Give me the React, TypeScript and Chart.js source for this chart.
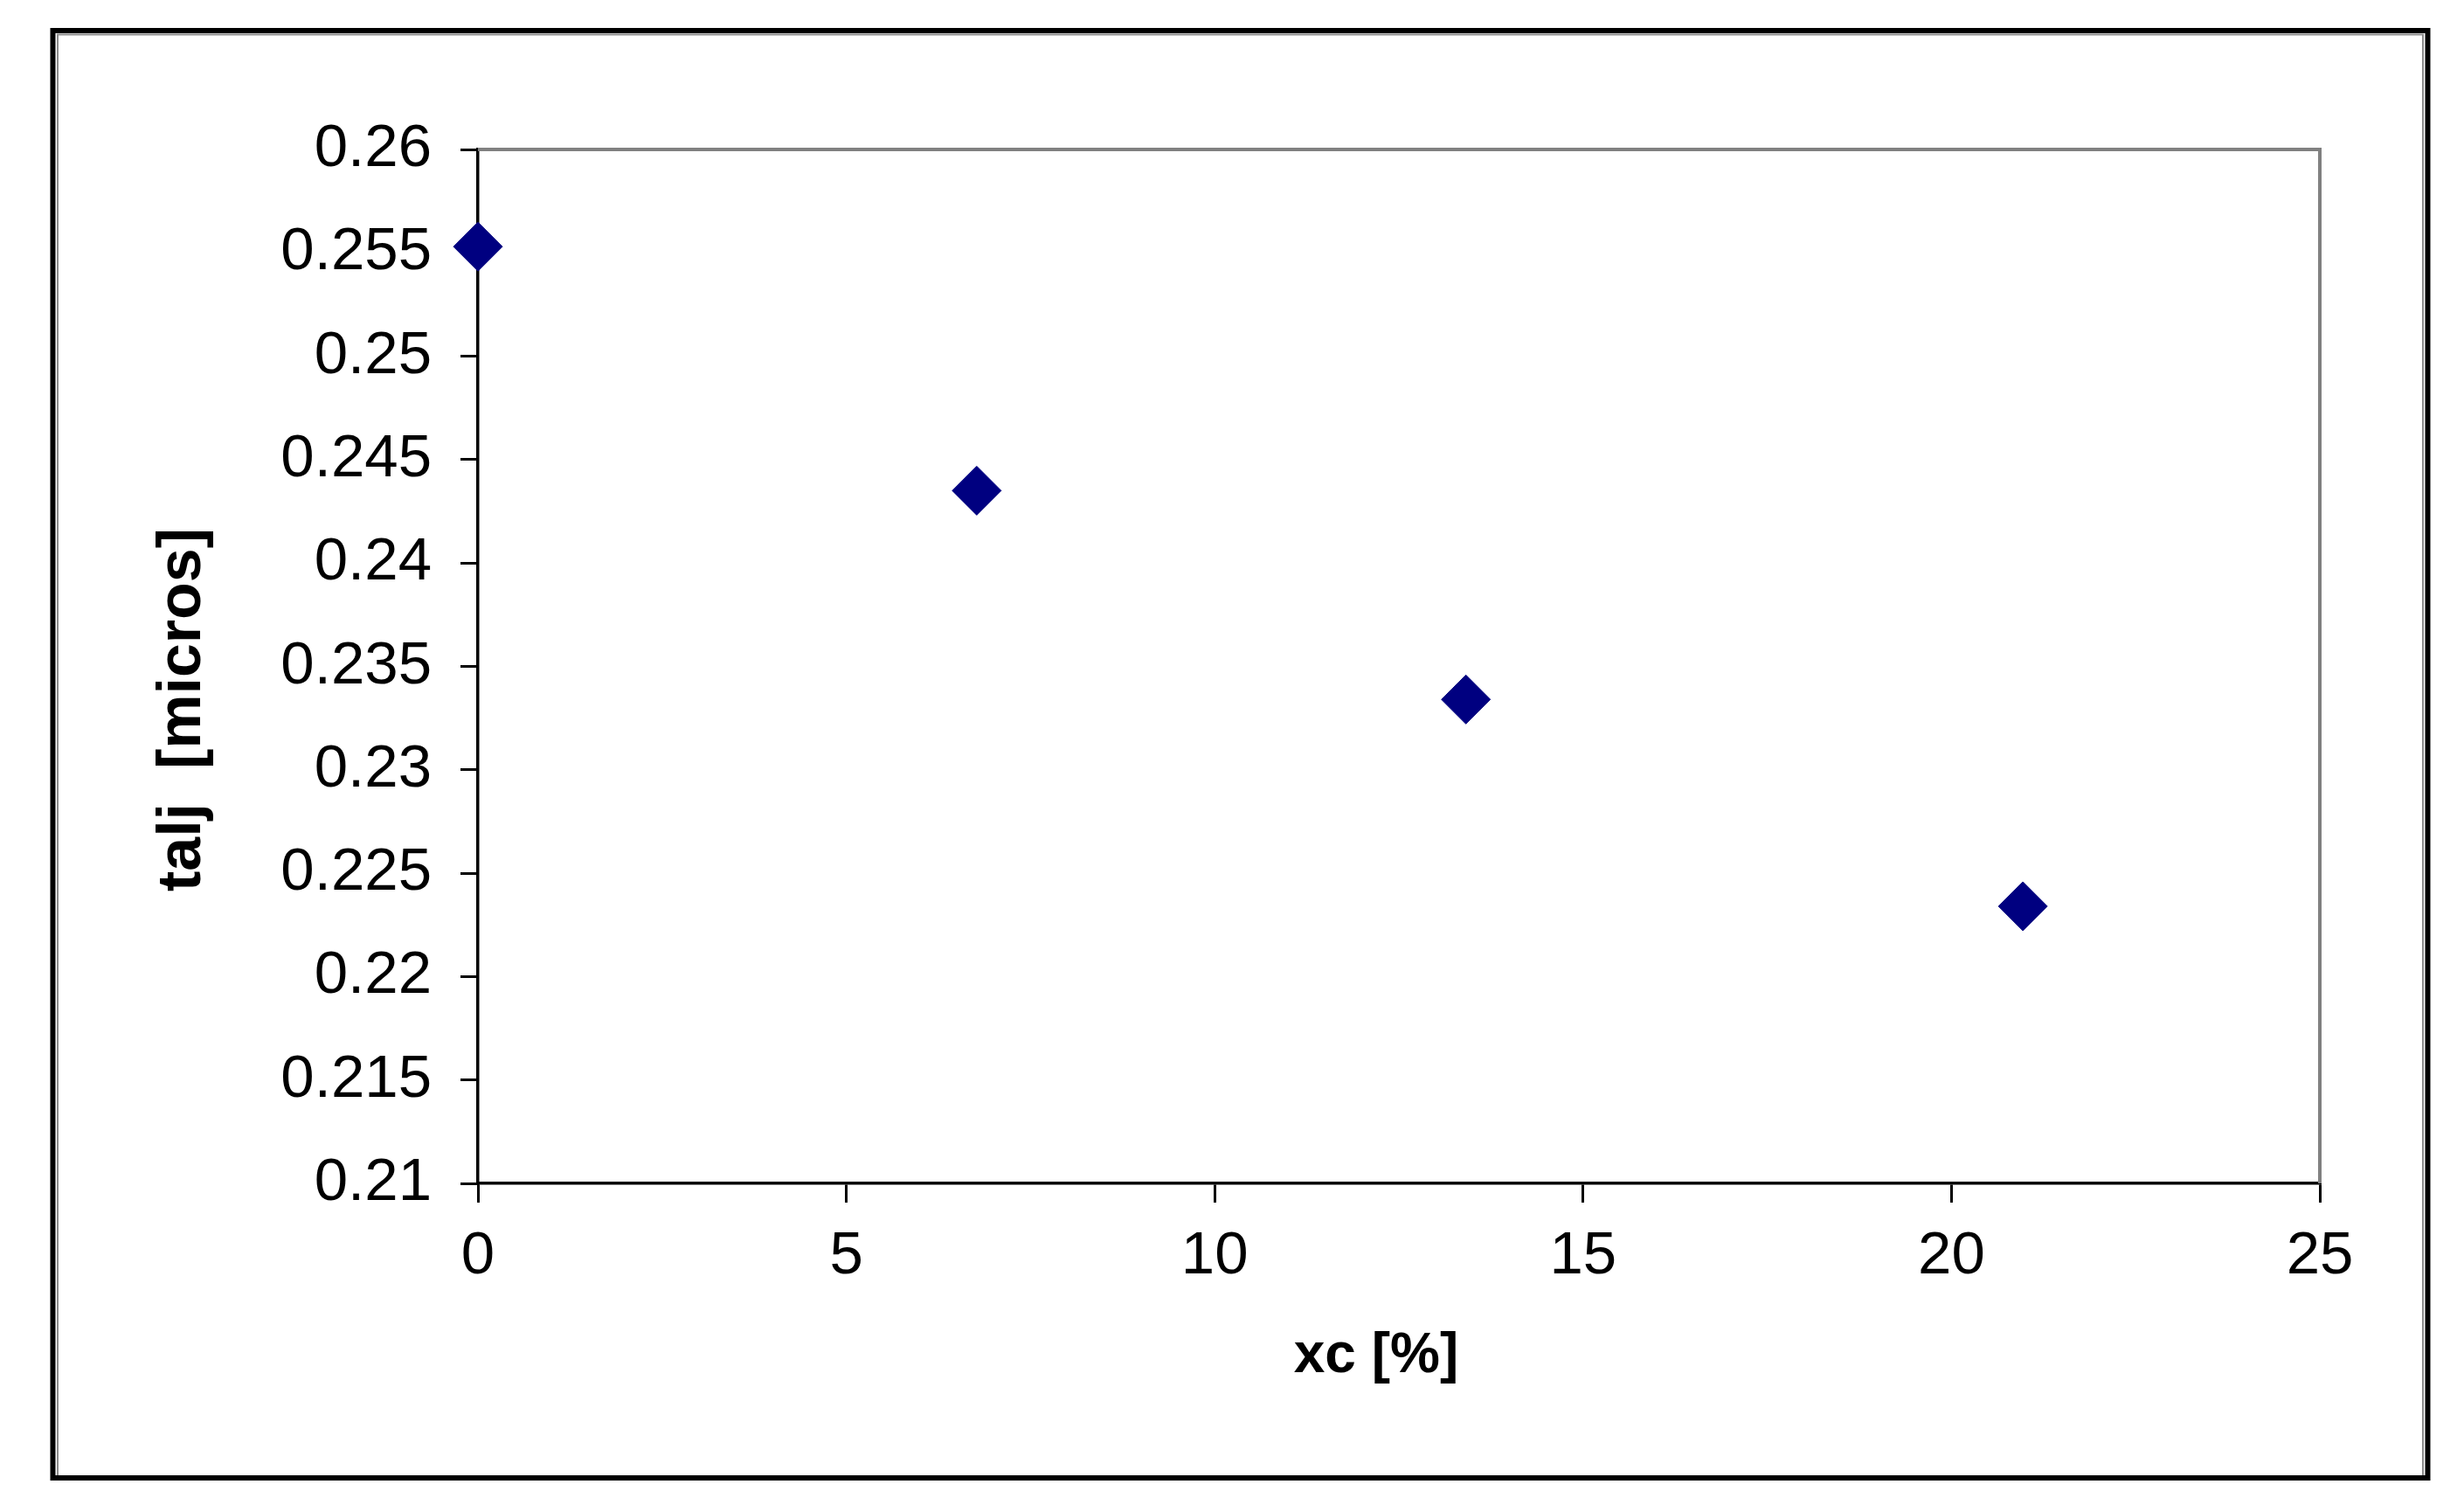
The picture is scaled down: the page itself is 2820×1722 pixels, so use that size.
import React, { useEffect, useRef } from "react";
import { Chart, registerables } from "chart.js";

Chart.register(...registerables);

// ---- Data ----
const xcPercent = [0, 6.77, 13.41, 20.97];
const taljMicros = [0.2553, 0.2435, 0.2334, 0.2234];

const xTickValues = [0, 5, 10, 15, 20, 25];
const xTickLabels = ["0", "5", "10", "15", "20", "25"];
const yTickValues = [0.21, 0.215, 0.22, 0.225, 0.23, 0.235, 0.24, 0.245, 0.25, 0.255, 0.26];
const yTickLabels = ["0.21", "0.215", "0.22", "0.225", "0.23", "0.235", "0.24", "0.245", "0.25", "0.255", "0.26"];

const xTitle = "xc [%]";
const yTitle = "talj  [micros]";

const FONT = "'Liberation Sans', Arial, Helvetica, sans-serif";

const framePlugin = {
  id: "excelFrame",
  beforeDraw(chart: any) {
    const ctx = chart.ctx;
    ctx.save();
    ctx.fillStyle = "#ffffff";
    ctx.fillRect(0, 0, chart.width, chart.height);
    // outer black frame
    ctx.strokeStyle = "#000000";
    ctx.lineWidth = 6;
    ctx.strokeRect(60.5, 35, 2718, 1656);
    // inner grey line
    ctx.strokeStyle = "#8a8a8a";
    ctx.lineWidth = 2;
    ctx.beginPath();
    ctx.moveTo(66, 1688);
    ctx.lineTo(66, 39.5);
    ctx.lineTo(2773, 39.5);
    ctx.lineTo(2773, 1688);
    ctx.stroke();
    ctx.restore();
  },
  beforeDatasetsDraw(chart: any) {
    const { left, top, right, bottom } = chart.chartArea;
    const ctx = chart.ctx;
    ctx.save();
    ctx.strokeStyle = "#808080";
    ctx.lineWidth = 4;
    ctx.beginPath();
    ctx.moveTo(left, top);
    ctx.lineTo(right, top);
    ctx.lineTo(right, bottom);
    ctx.stroke();
    ctx.restore();
  },
  afterDraw(chart: any) {
    const ctx = chart.ctx;
    ctx.save();
    ctx.fillStyle = "#000000";
    ctx.textAlign = "center";
    ctx.textBaseline = "alphabetic";
    ctx.font = `bold 64px ${FONT}`;
    ctx.fillText(xTitle, 1575, 1570);
    ctx.font = `bold 70px ${FONT}`;
    ctx.translate(229, 812);
    ctx.rotate(-Math.PI / 2);
    ctx.fillText(yTitle, 0, 0);
    ctx.restore();
  },
};

export default function App() {
  const canvasRef = useRef<HTMLCanvasElement | null>(null);

  useEffect(() => {
    const canvas = canvasRef.current;
    if (!canvas) return;
    const chart = new Chart(canvas, {
      type: "scatter",
      data: {
        datasets: [
          {
            label: "talj",
            data: xcPercent.map((x, i) => ({ x, y: taljMicros[i] })),
            pointStyle: "rectRot",
            pointRadius: 28,
            pointHoverRadius: 28,
            backgroundColor: "#000080",
            borderColor: "#000080",
            borderWidth: 1,
            showLine: false,
            clip: false as any,
          },
        ],
      },
      options: {
        responsive: false,
        animation: false,
        devicePixelRatio: 1,
        layout: { padding: { left: 0, top: 171, right: 165, bottom: 0 } },
        plugins: {
          legend: { display: false },
          tooltip: { enabled: false },
          title: { display: false },
        },
        scales: {
          x: {
            type: "linear",
            position: "bottom",
            min: 0,
            max: 25,
            afterBuildTicks: (scale: any) => {
              scale.ticks = xTickValues.map((v) => ({ value: v }));
            },
            afterFit: (scale: any) => {
              scale.height = 368;
            },
            ticks: {
              color: "#000000",
              font: { family: FONT, size: 69 },
              padding: 21,
              maxRotation: 0,
              autoSkip: false,
              callback: (_v: any, i: number) => xTickLabels[i],
            },
            grid: {
              display: true,
              drawOnChartArea: false,
              drawTicks: true,
              tickLength: 22,
              color: "#000000",
              lineWidth: 3,
            },
            border: { display: true, color: "#000000", width: 3.5 },
            title: { display: false },
          },
          y: {
            type: "linear",
            position: "left",
            min: 0.21,
            max: 0.26,
            afterBuildTicks: (scale: any) => {
              scale.ticks = yTickValues.map((v) => ({ value: v }));
            },
            afterFit: (scale: any) => {
              scale.width = 547;
            },
            ticks: {
              color: "#000000",
              font: { family: FONT, size: 69 },
              padding: 33,
              autoSkip: false,
              callback: (_v: any, i: number) => yTickLabels[i],
            },
            grid: {
              display: true,
              drawOnChartArea: false,
              drawTicks: true,
              tickLength: 20,
              color: "#000000",
              lineWidth: 3,
            },
            border: { display: true, color: "#000000", width: 3.5 },
            title: { display: false },
          },
        },
      },
      plugins: [framePlugin],
    });
    return () => {
      chart.destroy();
    };
  }, []);

  return (
    <div style={{ position: "absolute", left: 0, top: 0, width: 2820, height: 1722, background: "#ffffff" }}>
      <canvas ref={canvasRef} width={2820} height={1722} style={{ display: "block", width: 2820, height: 1722 }} />
    </div>
  );
}
